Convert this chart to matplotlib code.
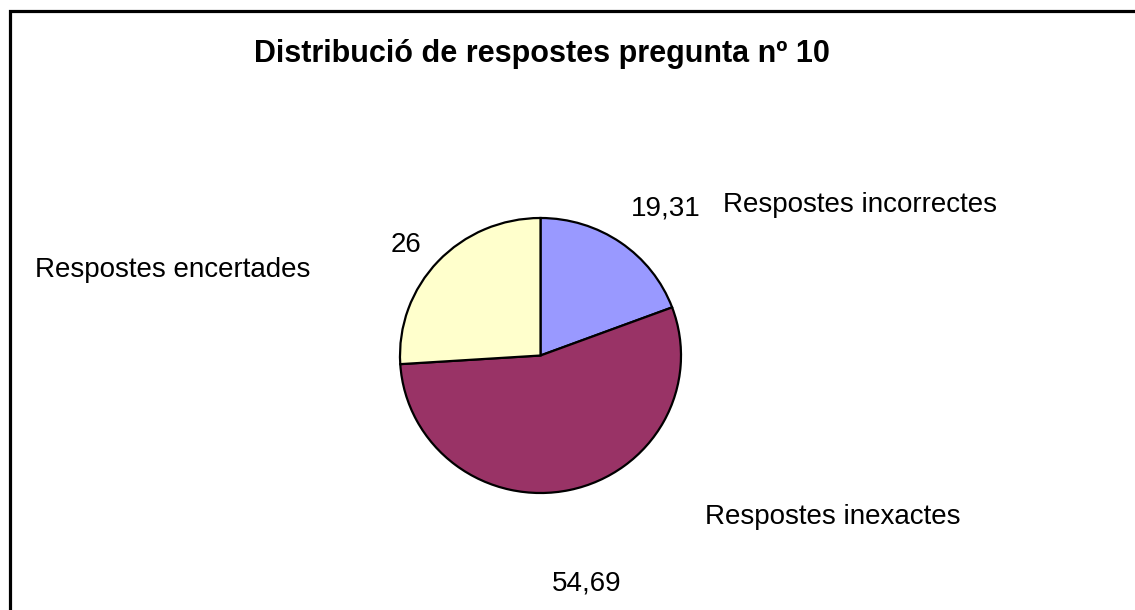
import matplotlib.pyplot as plt
import matplotlib.patches as mpatches

plt.rcParams['font.family'] = ['Liberation Sans', 'DejaVu Sans']

# dades
title = 'Distribució de respostes pregunta nº 10'
categories = ['Respostes incorrectes', 'Respostes inexactes', 'Respostes encertades']
values = [19.31, 54.69, 26]
colors = ['#9999FF', '#993366', '#FFFFCC']

W, H = 1135, 610
fig = plt.figure(figsize=(W / 100, H / 100), dpi=100)

# marc (només es veuen la vora superior i l'esquerra)
fig.patches.append(mpatches.Rectangle((9.5 / W, -0.2), 1.5, 1.2 - 11 / H,
                                      transform=fig.transFigure, fill=False,
                                      edgecolor='black', linewidth=2.3))

# pastís
cx, cy, rx, ry = 540.5, 355.5, 140.5, 137.5
ax = fig.add_axes([(cx - rx) / W, (H - cy - ry) / H, 2 * rx / W, 2 * ry / H])
ax.pie(values, colors=colors, startangle=90, counterclock=False,
       wedgeprops={'edgecolor': 'black', 'linewidth': 1.6})
ax.set_xlim(-1, 1)
ax.set_ylim(-1, 1)
ax.set_aspect('auto')

fig.text(542 / W, 1 - 62 / H, title, ha='center', va='baseline',
         fontsize=22, fontweight='bold')

# etiquetes (posició en píxels: x, línia base, alineació)
cat_pos = [(723, 212, 'left'), (705, 524, 'left'), (35, 277, 'left')]
val_pos = [(666, 215, 'center'), (587, 590, 'center'), (406, 252, 'center')]
for name, v, (x, y, ha), (vx, vy, vha) in zip(categories, values, cat_pos, val_pos):
    fig.text(x / W, 1 - y / H, name, ha=ha, va='baseline', fontsize=20)
    fig.text(vx / W, 1 - vy / H, f'{v:g}'.replace('.', ','), ha=vha,
             va='baseline', fontsize=20)

fig.savefig('out.png', dpi=100, facecolor='white')
